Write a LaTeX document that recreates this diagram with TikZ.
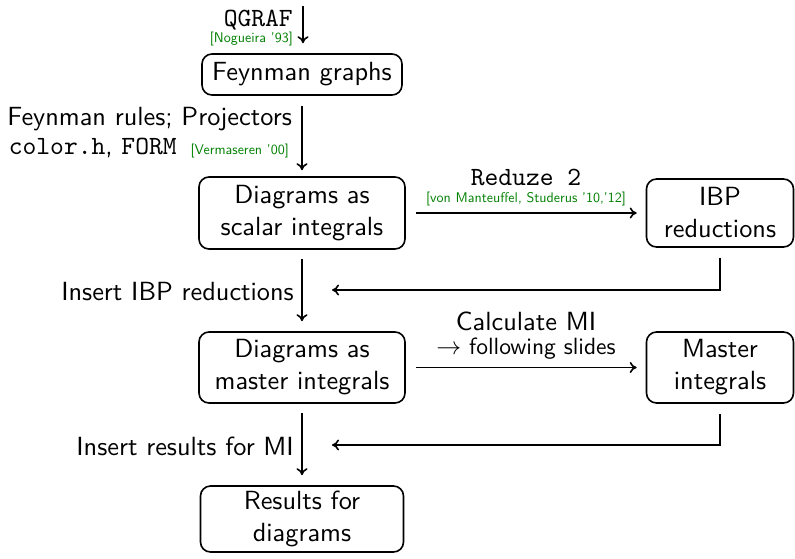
\documentclass[tikz,border=0pt]{standalone}
\usepackage{fontspec}
\setsansfont{lmsans10-regular.otf}
\setmonofont{lmmono10-regular.otf}
\usetikzlibrary{arrows.meta}
\definecolor{refgreen}{RGB}{0,128,0}
\newcommand\bigf{\fontsize{26.3}{32}\selectfont\sffamily}
\newcommand\midf{\fontsize{23.5}{27}\selectfont\sffamily}
\newcommand\tinyf{\fontsize{14}{16}\selectfont\sffamily}
\begin{document}
\begin{tikzpicture}[x=1pt,y=-1pt,
  every node/.style={inner sep=0pt},
  box/.style={draw, line width=1.6pt, rounded corners=10pt, align=center, font=\bigf},
  lab/.style={font=\bigf},
  cite/.style={font=\tinyf, text=refgreen},
  conn/.style={line width=1.6pt, -{To[length=7pt,width=11pt]}}]
\useasboundingbox (0,0) rectangle (795,558);
% boxes
\node[box, text width=200pt, minimum height=41pt] (fg) at (302,74.5) {Feynman graphs};
\node[box, text width=206pt, minimum height=72pt] (dsi) at (302,213) {Diagrams as\\scalar integrals};
\node[box, text width=147pt, minimum height=68pt] (ibp) at (720,213) {IBP\\reductions};
\node[box, text width=206pt, minimum height=71pt] (dmi) at (302,367.5) {Diagrams as\\master integrals};
\node[box, text width=147pt, minimum height=71pt] (mi) at (720,367.5) {Master\\integrals};
\node[box, text width=203pt, minimum height=66pt] (res) at (302,519) {Results for\\diagrams};
% coordinates
\coordinate (qtop) at (303,6);
\coordinate (ibpin) at (332,290);
\coordinate (miin) at (332,445);
% vertical arrows
\draw[conn, shorten >=10pt] (qtop) -- (qtop |- fg.north);
\draw[conn, shorten <=10pt, shorten >=6pt] (fg.south) -- (dsi.north);
\draw[conn, shorten <=9pt, shorten >=10pt] (dsi.south) -- (dmi.north);
\draw[conn, shorten <=9pt, shorten >=10pt] (dmi.south) -- (res.north);
% horizontal arrows
\draw[conn, shorten <=10pt, shorten >=9pt] (dsi.east) -- (ibp.west);
\draw[conn, shorten <=10pt, shorten >=9pt] (dmi.east) -- (mi.west);
% feedback lines
\draw[conn] ([yshift=-10pt]ibp.south) |- (ibpin);
\draw[conn] ([yshift=-10pt]mi.south) |- (miin);
% labels
\node[lab, anchor=base east] (qgraf) at (293,26) {\ttfamily QGRAF};
\node[cite, anchor=base east] (nog) at (293,42) {[Nogueira '93]};
\node[lab, anchor=base east] (frules) at (292,125) {Feynman rules; Projectors};
\node[lab, anchor=base east] (form) at (289,154) {\ttfamily color.h\sffamily, \ttfamily FORM \tinyf\color{refgreen}[Vermaseren '00]};
\node[lab, anchor=base] (reduze) at (526,185) {\ttfamily Reduze 2};
\node[cite, anchor=base] (vmst) at (526,202) {[von Manteuffel, Studerus '10,'12]};
\node[lab, anchor=base] (calc) at (526,330) {Calculate MI};
\node[font=\midf, anchor=base] (follow) at (526,354) {$\rightarrow$ following slides};
\node[lab, anchor=base east] (iibp) at (294,300) {Insert IBP reductions};
\node[lab, anchor=base east] (ires) at (294,455) {Insert results for MI};
\end{tikzpicture}
\end{document}
